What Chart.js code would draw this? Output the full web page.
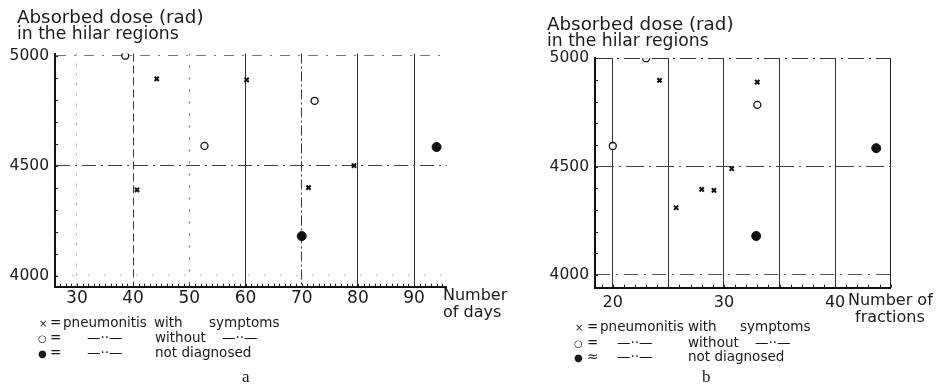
<!DOCTYPE html>
<html>
<head>
<meta charset="utf-8">
<script src="https://cdn.jsdelivr.net/npm/chart.js@4.4.1/dist/chart.umd.min.js"></script>
<style>
    body { margin: 0; background: #fff; }
    #wrap { position: relative; width: 944px; height: 391px; overflow: hidden; font-family: "DejaVu Sans", sans-serif; color: #1a1a1a; }
    canvas { position: absolute; top: 0; }
    .t { position: absolute; white-space: pre; line-height: 1; }
    .title { font-size: 18.3px; }
    .title2 { font-size: 17.2px; }
    .axt { font-size: 16px; }
    .leg { font-size: 13.5px; }
    .sym { font-size: 10px; }
    .cap { font-family: "Liberation Serif", serif; font-size: 17px; }
</style>
</head>
<body>
<div id="wrap">
    <canvas id="chartDays" width="472" height="391" style="left:0"></canvas>
    <canvas id="chartFractions" width="472" height="391" style="left:472px"></canvas>

    <!-- panel a texts -->
    <div class="t title" style="left:17px;top:8px">Absorbed dose (rad)</div>
    <div class="t title2" style="left:17px;top:25px">in the hilar regions</div>
    <div class="t axt" style="left:443px;top:287px">Number</div>
    <div class="t axt" style="left:443px;top:304px">of days</div>

    <div class="t sym" style="left:39px;top:319px">×</div>
    <div class="t leg" style="left:50px;top:316px">=</div>
    <div class="t leg" style="left:63px;top:316px">pneumonitis</div>
    <div class="t leg" style="left:154px;top:316px">with</div>
    <div class="t leg" style="left:209px;top:316px">symptoms</div>
    <div class="t sym" style="left:38px;top:334px">○</div>
    <div class="t leg" style="left:50px;top:331px">=</div>
    <div class="t leg" style="left:87px;top:331px">—··—</div>
    <div class="t leg" style="left:155px;top:331px">without</div>
    <div class="t leg" style="left:222px;top:331px">—··—</div>
    <div class="t sym" style="left:38px;top:349px">●</div>
    <div class="t leg" style="left:50px;top:346px">=</div>
    <div class="t leg" style="left:87px;top:346px">—··—</div>
    <div class="t leg" style="left:155px;top:346px">not diagnosed</div>
    <div class="t cap" style="left:242px;top:368px">a</div>

    <!-- panel b texts -->
    <div class="t title" style="left:547px;top:15px">Absorbed dose (rad)</div>
    <div class="t title2" style="left:547px;top:32px">in the hilar regions</div>
    <div class="t axt" style="left:848px;top:292px">Number of</div>
    <div class="t axt" style="left:855px;top:309px">fractions</div>

    <div class="t sym" style="left:575px;top:323px">×</div>
    <div class="t leg" style="left:587px;top:320px">=</div>
    <div class="t leg" style="left:600px;top:320px">pneumonitis</div>
    <div class="t leg" style="left:688px;top:320px">with</div>
    <div class="t leg" style="left:740px;top:320px">symptoms</div>
    <div class="t sym" style="left:574px;top:339px">○</div>
    <div class="t leg" style="left:587px;top:336px">=</div>
    <div class="t leg" style="left:617px;top:336px">—··—</div>
    <div class="t leg" style="left:688px;top:336px">without</div>
    <div class="t leg" style="left:755px;top:336px">—··—</div>
    <div class="t sym" style="left:574px;top:353px">●</div>
    <div class="t leg" style="left:587px;top:350px">≈</div>
    <div class="t leg" style="left:617px;top:350px">—··—</div>
    <div class="t leg" style="left:688px;top:350px">not diagnosed</div>
    <div class="t cap" style="left:702px;top:368px">b</div>
</div>

<script>
// panel a: dose vs number of days
const daysWith = [44.2, 60.2, 79.3, 71.2, 40.7];
const doseDaysWith = [4895, 4890, 4500, 4400, 4390];
const daysWithout = [38.6, 52.7, 72.3];
const doseDaysWithout = [5000, 4590, 4795];
const daysNotDiag = [94, 70];
const doseDaysNotDiag = [4585, 4180];

// panel b: dose vs number of fractions
const fracWith = [24.2, 33, 30.7, 28, 29.1, 25.7];
const doseFracWith = [4898, 4890, 4490, 4395, 4390, 4310];
const fracWithout = [20, 23, 33];
const doseFracWithout = [4595, 5000, 4785];
const fracNotDiag = [43.7, 32.9];
const doseFracNotDiag = [4585, 4180];

// tick labels
const dayTicks = [30, 40, 50, 60, 70, 80, 90];
const fracTicks = [20, 30, 40];
const doseTicks = [4000, 4500, 5000];

Chart.defaults.animation = false;
Chart.defaults.font.family = '"DejaVu Sans", sans-serif';
Chart.defaults.color = '#1a1a1a';

function pts(xs, ys) {
    return xs.map((v, i) => ({ x: v, y: ys[i] }));
}

// tick positions every `step` inside the axis range
function stepTicks(scale, step) {
    const out = [];
    for (let v = Math.ceil(scale.min / step) * step; v <= scale.max + 1e-9; v += step) {
        out.push({ value: v });
    }
    scale.ticks = out;
}

// small inward tick marks along both axes
const minorTicks = {
    id: 'minorTicks',
    afterDatasetsDraw(chart) {
        const { ctx, chartArea } = chart;
        const x = chart.scales.x, y = chart.scales.y;
        ctx.save();
        ctx.strokeStyle = '#222';
        ctx.lineWidth = 1;
        ctx.beginPath();
        x.ticks.forEach(t => {
            const px = Math.round(x.getPixelForValue(t.value)) + 0.5;
            ctx.moveTo(px, chartArea.bottom);
            ctx.lineTo(px, chartArea.bottom - 3);
        });
        y.ticks.forEach(t => {
            const py = Math.round(y.getPixelForValue(t.value)) + 0.5;
            ctx.moveTo(chartArea.left, py);
            ctx.lineTo(chartArea.left + 3, py);
        });
        ctx.stroke();
        ctx.restore();
    }
};

function datasets(w, wo, nd) {
    return [
        { data: w, pointStyle: 'crossRot', pointRadius: 3, borderWidth: 2, borderColor: '#111', backgroundColor: '#111' },
        { data: wo, pointStyle: 'circle', pointRadius: 3.5, borderWidth: 1.3, borderColor: '#111', backgroundColor: '#fff' },
        { data: nd, pointStyle: 'circle', pointRadius: 4.5, borderWidth: 1, borderColor: '#111', backgroundColor: '#111' }
    ];
}

function makeChart(id, opts) {
    const ctx = document.getElementById(id).getContext('2d');
    return new Chart(ctx, {
        type: 'scatter',
        data: { datasets: datasets(opts.w, opts.wo, opts.nd) },
        plugins: [minorTicks],
        options: {
            responsive: false,
            layout: { padding: opts.padding },
            plugins: { legend: { display: false }, tooltip: { enabled: false } },
            elements: { point: { hoverRadius: 4 } },
            scales: {
                x: {
                    type: 'linear', min: opts.xMin, max: opts.xMax,
                    afterBuildTicks: s => stepTicks(s, 1),
                    afterFit: s => { s.height = 30; },
                    ticks: {
                        autoSkip: false, maxRotation: 0,
                        padding: opts.xPad, font: { size: opts.xFont },
                        callback: v => opts.xLabels.includes(v) ? v : ''
                    },
                    grid: {
                        drawTicks: false,
                        color: c => c.tick && opts.xGrid[c.tick.value] ? opts.xGrid[c.tick.value].color : 'transparent'
                    },
                    border: {
                        color: '#111', width: 2,
                        dash: c => c.tick && opts.xGrid[c.tick.value] ? opts.xGrid[c.tick.value].dash : []
                    }
                },
                y: {
                    type: 'linear', min: opts.yMin, max: opts.yMax,
                    afterBuildTicks: s => stepTicks(s, 100),
                    afterFit: s => { s.width = opts.yWidth; },
                    ticks: {
                        autoSkip: false,
                        padding: 6, font: { size: 15.5 },
                        callback: v => doseTicks.includes(v) ? v : ''
                    },
                    grid: {
                        drawTicks: false,
                        color: c => c.tick && opts.yGrid[c.tick.value] ? opts.yGrid[c.tick.value].color : 'transparent'
                    },
                    border: {
                        color: '#111', width: 2,
                        dash: c => c.tick && opts.yGrid[c.tick.value] ? opts.yGrid[c.tick.value].dash : []
                    }
                }
            }
        }
    });
}

document.addEventListener("DOMContentLoaded", function () {
    makeChart('chartDays', {
        w: pts(daysWith, doseDaysWith),
        wo: pts(daysWithout, doseDaysWithout),
        nd: pts(daysNotDiag, doseDaysNotDiag),
        xMin: 26.1, xMax: 95.8, yMin: 3950, yMax: 5010,
        xLabels: dayTicks, xFont: 17, xPad: 2, yWidth: 55,
        padding: { left: 0, top: 53.5, right: 25.3, bottom: 74.3 },
        xGrid: {
            30: { color: '#aaa', dash: [2, 8] },
            40: { color: '#333', dash: [8, 4] },
            50: { color: '#666', dash: [2, 10] },
            60: { color: '#333', dash: [] },
            70: { color: '#333', dash: [10, 3, 2, 3] },
            80: { color: '#333', dash: [] },
            90: { color: '#333', dash: [] }
        },
        yGrid: {
            4000: { color: '#bbb', dash: [2, 14] },
            4500: { color: '#444', dash: [14, 5, 2, 5] },
            5000: { color: '#777', dash: [10, 8, 2, 8] }
        }
    });

    makeChart('chartFractions', {
        w: pts(fracWith, doseFracWith),
        wo: pts(fracWithout, doseFracWithout),
        nd: pts(fracNotDiag, doseFracNotDiag),
        xMin: 18.4, xMax: 45, yMin: 3941.4, yMax: 5000,
        xLabels: fracTicks, xFont: 16, xPad: 6, yWidth: 50,
        padding: { left: 73, top: 58.2, right: 53.3, bottom: 73.3 },
        xGrid: {
            20: { color: '#333', dash: [] },
            25: { color: '#333', dash: [] },
            30: { color: '#333', dash: [] },
            35: { color: '#333', dash: [] },
            40: { color: '#333', dash: [] },
            45: { color: '#222', dash: [] }
        },
        yGrid: {
            4000: { color: '#555', dash: [14, 6, 2, 6] },
            4500: { color: '#444', dash: [18, 5, 2, 5] },
            5000: { color: '#333', dash: [16, 5, 2, 5] }
        }
    });
});
</script>
</body>
</html>
